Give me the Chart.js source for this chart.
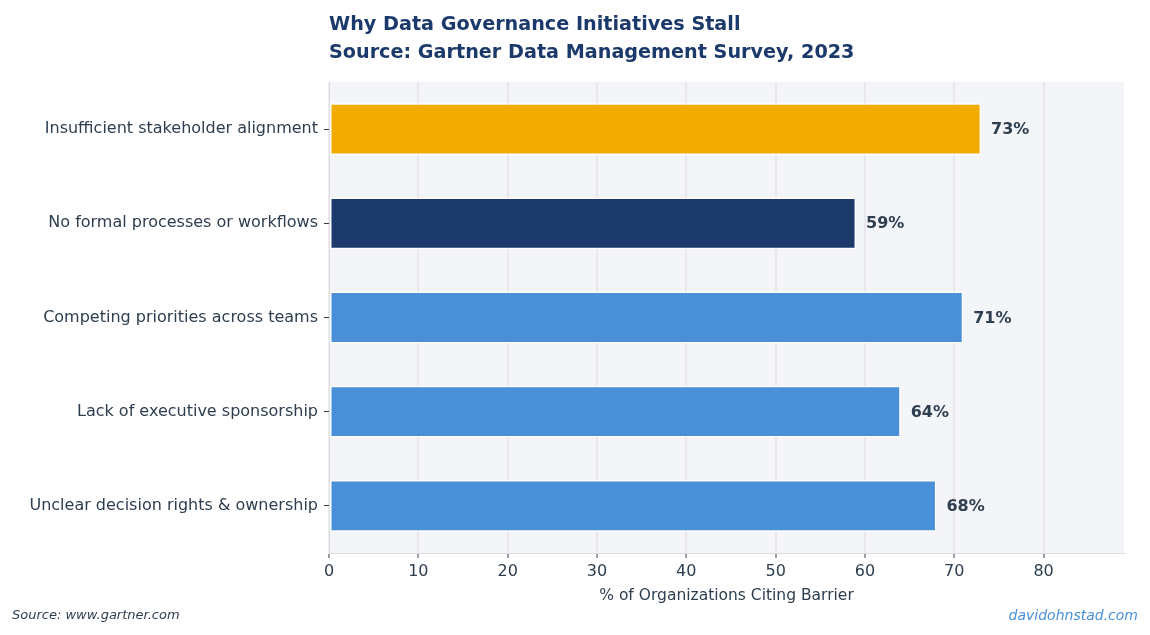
<!DOCTYPE html>
<html>
<head>
<meta charset="utf-8">
<script src="https://cdn.jsdelivr.net/npm/chart.js@4"></script>
<style>
    html, body { margin: 0; padding: 0; background: #fff; }
    #wrap { width: 1150px; height: 635px; }
</style>
</head>
<body>
<div id="wrap"><canvas id="barrierChart"></canvas></div>
<script>
// ========================================
// DATA
// ========================================
const categories = [
    'Insufficient stakeholder alignment',
    'No formal processes or workflows',
    'Competing priorities across teams',
    'Lack of executive sponsorship',
    'Unclear decision rights & ownership'
];
const values = [73, 59, 71, 64, 68];
const barColors = ['#f2ab00', '#1b3a6b', '#4a90d9', '#4a90d9', '#4a90d9'];
const xTicks = [0, 10, 20, 30, 40, 50, 60, 70, 80];

const titleLines = [
    'Why Data Governance Initiatives Stall',
    'Source: Gartner Data Management Survey, 2023'
];
const sourceNote = 'Source: www.gartner.com';
const creditNote = 'davidohnstad.com';

const FONT = "'DejaVu Sans', sans-serif";
const TEXT = '#2d3e50';

// ========================================
// PLUGINS
// ========================================
const plotBackground = {
    id: 'plotBackground',
    beforeDraw(chart) {
        const { ctx, chartArea: a } = chart;
        ctx.save();
        ctx.fillStyle = '#f4f5f9';
        ctx.fillRect(a.left, a.top, a.right - a.left, a.bottom - a.top);
        ctx.restore();
    }
};

const valueLabels = {
    id: 'valueLabels',
    afterDraw(chart) {
        const { ctx } = chart;
        const meta = chart.getDatasetMeta(0);
        const xScale = chart.scales.x;
        ctx.save();
        ctx.font = 'bold 16px ' + FONT;
        ctx.fillStyle = TEXT;
        ctx.textAlign = 'left';
        ctx.textBaseline = 'middle';
        meta.data.forEach((bar, i) => {
            const x = xScale.getPixelForValue(values[i]) + 10;
            ctx.fillText(values[i] + '%', x, bar.y + 1);
        });
        ctx.restore();
    }
};

const textBlocks = {
    id: 'textBlocks',
    afterDraw(chart) {
        const { ctx, chartArea: a } = chart;
        ctx.save();
        ctx.fillStyle = '#1b3a6b';
        ctx.font = 'bold 19.2px ' + FONT;
        ctx.textAlign = 'left';
        ctx.textBaseline = 'middle';
        ctx.fillText(titleLines[0], a.left, 25);
        ctx.fillText(titleLines[1], a.left, 53);

        ctx.font = 'italic 13px ' + FONT;
        ctx.fillStyle = TEXT;
        ctx.fillText(sourceNote, 12, 616);
        ctx.font = 'italic 14px ' + FONT;
        ctx.fillStyle = '#4a90d9';
        ctx.textAlign = 'right';
        ctx.fillText(creditNote, 1138, 616);
        ctx.restore();
    }
};

// ========================================
// CHART
// ========================================
new Chart(document.getElementById('barrierChart'), {
    type: 'bar',
    data: {
        labels: categories,
        datasets: [{
            data: values,
            backgroundColor: barColors,
            borderColor: '#ffffff',
            borderWidth: 1.5,
            borderSkipped: false,
            barPercentage: 0.55,
            categoryPercentage: 1
        }]
    },
    options: {
        indexAxis: 'y',
        responsive: true,
        maintainAspectRatio: false,
        animation: false,
        layout: {
            padding: { left: 0, right: 26, top: 82, bottom: 0 }
        },
        plugins: {
            legend: { display: false },
            tooltip: { enabled: false }
        },
        scales: {
            x: {
                type: 'linear',
                min: 0,
                max: 89,
                z: 1,
                afterFit(scale) { scale.height = 82; },
                afterBuildTicks(scale) {
                    scale.ticks = xTicks.map(v => ({ value: v }));
                },
                ticks: {
                    color: TEXT,
                    padding: 4,
                    font: { family: FONT, size: 16 }
                },
                grid: {
                    color: 'rgba(215, 215, 220, 0.45)',
                    lineWidth: 2,
                    tickLength: 5,
                    tickColor: TEXT,
                    tickWidth: 1
                },
                border: { color: '#dddddd', width: 1 },
                title: {
                    display: true,
                    text: '% of Organizations Citing Barrier',
                    color: TEXT,
                    font: { family: FONT, size: 15.5 },
                    padding: { top: 0, bottom: 30 }
                }
            },
            y: {
                afterFit(scale) { scale.width = 329; },
                ticks: {
                    color: TEXT,
                    padding: 6,
                    font: { family: FONT, size: 16 }
                },
                grid: {
                    offset: false,
                    drawOnChartArea: false,
                    tickLength: 5,
                    tickColor: TEXT,
                    tickWidth: 1
                },
                border: { color: '#dddddd', width: 1 }
            }
        }
    },
    plugins: [plotBackground, valueLabels, textBlocks]
});
</script>
</body>
</html>
